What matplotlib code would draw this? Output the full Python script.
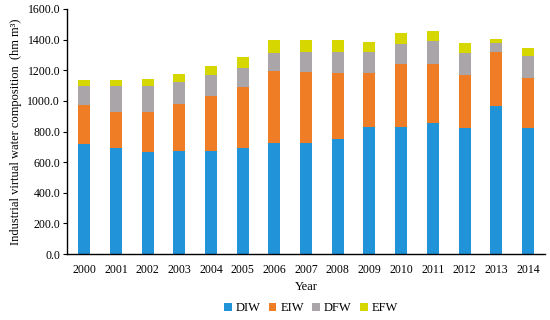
import matplotlib
matplotlib.use("Agg")
import matplotlib.pyplot as plt
import numpy as np

years = ["2000", "2001", "2002", "2003", "2004", "2005", "2006", "2007",
         "2008", "2009", "2010", "2011", "2012", "2013", "2014"]
DIW = [718, 694, 666, 673, 673, 690, 723, 723, 753, 831, 831, 857, 825, 966, 825]
EIW = [254, 235, 263, 309, 359, 403, 474, 468, 427, 353, 408, 384, 344, 351, 322]
DFW = [127, 170, 168, 139, 135, 119, 118, 126, 141, 137, 132, 148, 146, 63, 146]
EFW = [37, 37, 46, 53, 63, 73, 82, 82, 76, 63, 74, 69, 61, 26, 54]

series = [("DIW", DIW, "#2193d8"), ("EIW", EIW, "#ef7d26"),
          ("DFW", DFW, "#a9a5a9"), ("EFW", EFW, "#d6d600")]

plt.rcParams['font.family'] = ['Liberation Serif', 'DejaVu Serif']

fig = plt.figure(figsize=(5.5, 3.2), dpi=100)
ax = fig.add_axes([0.122, 0.206, 0.869, 0.766])

x = np.arange(len(years))
bottom = np.zeros(len(years))
for name, vals, col in series:
    ax.bar(x, vals, width=0.38, bottom=bottom, color=col, label=name)
    bottom += np.array(vals)

ax.set_xlim(-0.54, len(years) - 0.46)
ax.set_ylim(0, 1600)
ax.set_yticks(np.arange(0, 1601, 200))
ax.set_yticklabels([f"{v:.1f}" for v in np.arange(0, 1601, 200)], fontsize=8.5)
ax.set_xticks(x)
ax.set_xticklabels(years, fontsize=8.5)
ax.tick_params(axis='x', length=0, pad=7)
ax.tick_params(axis='y', length=3, direction='out', pad=2)
for s in ["top", "right"]:
    ax.spines[s].set_visible(False)
ax.spines["left"].set_linewidth(1.0)
ax.spines["bottom"].set_linewidth(1.0)

ax.set_xlabel("Year", fontsize=9, labelpad=4)
ax.set_ylabel("Industrial virtual water composition  (hm m\u00b3)", fontsize=9, labelpad=4)

ax.legend(loc="center", bbox_to_anchor=(0.51, -0.222), ncol=4, frameon=False,
          fontsize=9, handlelength=0.6, handleheight=0.6, handletextpad=0.3,
          columnspacing=0.7, borderpad=0.1)

fig.savefig("out.png", dpi=100)
